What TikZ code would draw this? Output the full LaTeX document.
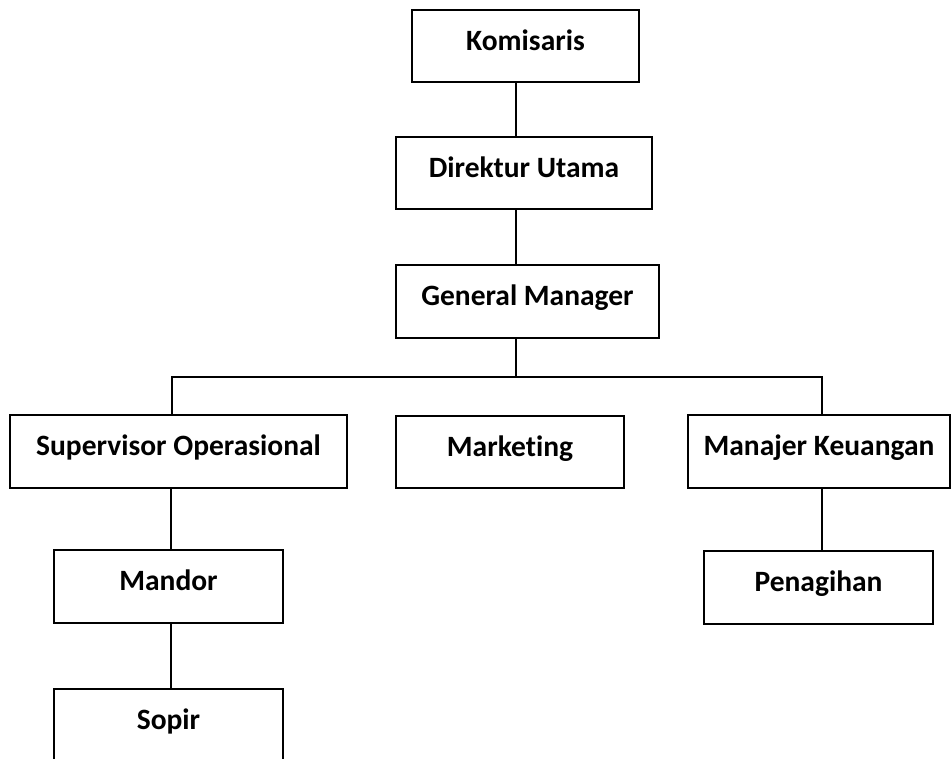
\documentclass[tikz,border=0pt]{standalone}
\usepackage{fontspec}
\setmainfont{Carlito}[Ligatures=NoCommon]
\tikzset{>=latex}
\tikzset{
  post/.style={draw=black,line width=2.8pt,fill=white,inner sep=0pt,
    font=\fontsize{29.5}{35}\selectfont\bfseries,text height=20pt,text depth=12pt},
  link/.style={line width=1.3pt,black}
}

\begin{document}
\begin{tikzpicture}[x=1pt,y=-1pt]
\useasboundingbox (0,0) rectangle (952,758);

%%% Top of the chart
\node[post,minimum width=227pt,minimum height=72pt] (kom) at (525.5,46) {Komisaris};
\node[post,minimum width=256pt,minimum height=72pt] (dir) at (524,173) {Direktur Utama};
\node[post,minimum width=263pt,minimum height=73pt] (gm) at (527.5,301.5) {General Manager};

%%% Second row
\node[post,minimum width=337pt,minimum height=73pt] (so) at (178.5,451.5) {Supervisor Operasional};
\node[post,minimum width=228pt,minimum height=72pt] (mkt) at (510,452) {Marketing};
\node[post,minimum width=262pt,minimum height=73pt] (mk) at (819,451.5) {Manajer Keuangan};

%%% Lower rows
\node[post,minimum width=229pt,minimum height=73pt] (man) at (168.5,586.5) {Mandor};
\node[post,minimum width=229pt,minimum height=73pt] (pen) at (818.5,587.5) {Penagihan};
\node[post,minimum width=229pt,minimum height=73pt] (sop) at (168.5,725.5) {Sopir};

%%% Lines
\coordinate (spine) at (516,377);
\coordinate (busL) at (172,377);
\coordinate (busR) at (822,377);
\coordinate (lcol) at (171,500);

\draw[link] (kom.south -| spine) -- (dir.north -| spine);
\draw[link] (dir.south -| spine) -- (gm.north -| spine);
\draw[link] (gm.south -| spine) -- (spine);
\draw[link] (so.north -| busL) -- (busL) -- (busR) -- (mk.north -| busR);
\draw[link] (so.south -| lcol) -- (man.north -| lcol);
\draw[link] (man.south -| lcol) -- (sop.north -| lcol);
\draw[link] (mk.south -| busR) -- (pen.north -| busR);

\end{tikzpicture}
\end{document}
